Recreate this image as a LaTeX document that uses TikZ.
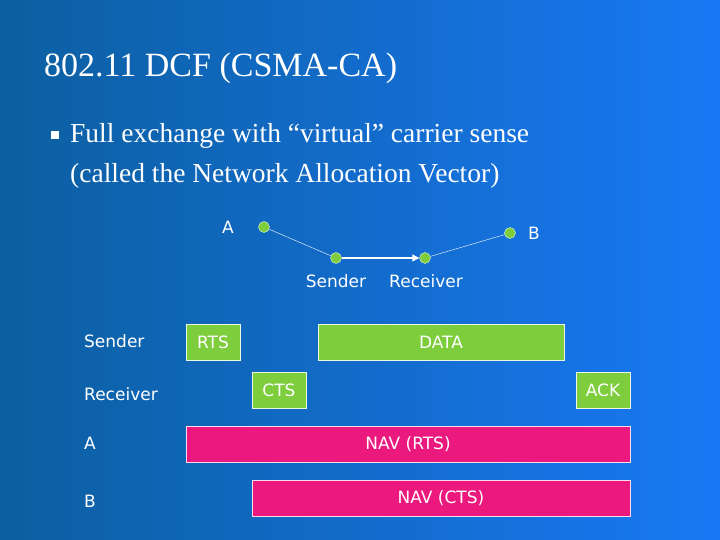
\documentclass[tikz,border=0pt]{standalone}
\usepackage{fontspec}
\setmainfont{Liberation Serif}
\newfontfamily\verd{DejaVu Sans}
\usetikzlibrary{arrows.meta}
\definecolor{bgleft}{RGB}{12,95,160}
\definecolor{bgright}{RGB}{25,120,245}
\definecolor{framegreen}{RGB}{125,205,60}
\definecolor{navpink}{RGB}{235,25,125}
\tikzset{
  lbl/.style={font=\verd\fontsize{17}{20}\selectfont, text=white},
  frm/.style={draw=white!85!framegreen, fill=framegreen, line width=0.8pt, inner sep=0pt, lbl},
  nav/.style={draw=white!85!navpink, fill=navpink, line width=0.8pt, inner sep=0pt, lbl},
  stn/.style={circle, fill=framegreen, draw=white!80!framegreen, inner sep=0pt, minimum size=11pt},
}
\begin{document}
\begin{tikzpicture}[x=1pt,y=-1pt]
  \shade[left color=bgleft, right color=bgright] (0,0) rectangle (720,540);
  \useasboundingbox (0,0) rectangle (720,540);

  % title and bullet
  \node[anchor=west, text=white, font=\fontsize{34}{40}\selectfont, inner sep=0pt] (title) at (44,68) {802.11 DCF (CSMA-CA)};
  \fill[white] (51,131) rectangle (59,139);
  \node[anchor=west, text=white, font=\fontsize{27.5}{32}\selectfont, inner sep=0pt] (line1) at (70,136) {Full exchange with “virtual” carrier sense};
  \node[anchor=west, text=white, font=\fontsize{27.5}{32}\selectfont, inner sep=0pt] (line2) at (70,176) {(called the Network Allocation Vector)};

  % stations
  \node[stn] (a) at (264,227) {};
  \node[stn] (snd) at (336,258) {};
  \node[stn] (rcv) at (425,258) {};
  \node[stn] (b) at (510,233) {};
  \node[lbl] (alab) at (228,227) {A};
  \node[lbl] (blab) at (534,233) {B};
  \node[lbl] (slab) at (336,281) {Sender};
  \node[lbl] (rlab) at (426,281) {Receiver};
  \draw[white, thin] (a) -- (snd);
  \draw[white, thin] (rcv) -- (b);
  \draw[white, line width=1.2pt, -{Triangle[length=7pt,width=7pt]}] (snd) -- (rcv);

  % timeline rows
  \node[lbl, anchor=west, inner sep=0pt] (rowsnd) at (84,341) {Sender};
  \node[lbl, anchor=west, inner sep=0pt] (rowrcv) at (84,394) {Receiver};
  \node[lbl, anchor=west, inner sep=0pt] (rowa) at (84,443) {A};
  \node[lbl, anchor=west, inner sep=0pt] (rowb) at (84,501) {B};

  % frames
  \node[frm, minimum width=54pt, minimum height=36pt] (rts) at (213,342) {RTS};
  \node[frm, minimum width=246pt, minimum height=36pt] (data) at (441,342) {DATA};
  \node[frm, minimum width=54pt, minimum height=36pt] (cts) at (279,390) {CTS};
  \node[frm, minimum width=54pt, minimum height=36pt] (ack) at (603,390) {ACK};
  \node[nav, minimum width=444pt, minimum height=36pt] (navrts) at (408,444) {NAV (RTS)};
  \node[nav, minimum width=378pt, minimum height=36pt] (navcts) at (441,498) {NAV (CTS)};
\end{tikzpicture}
\end{document}
